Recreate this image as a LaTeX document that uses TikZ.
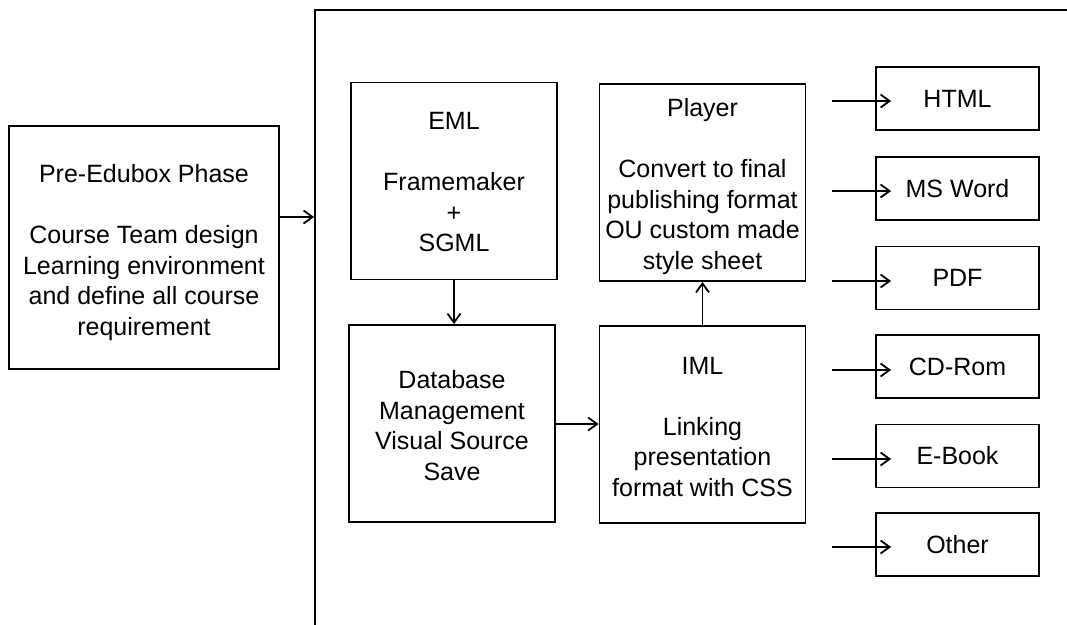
\documentclass[tikz,border=0pt]{standalone}
\usepackage{fontspec}
\setmainfont{Liberation Sans}
\usetikzlibrary{arrows.meta}
\begin{document}
\begin{tikzpicture}[x=1pt,y=-1pt,
  box/.style={draw, line width=1.8pt, align=center, inner sep=0pt,
    font=\fontsize{25}{30.5}\selectfont},
  outbox/.style={box, minimum width=163pt, minimum height=63pt},
  bigbox/.style={box, minimum width=206pt, minimum height=197pt},
  txt/.style={align=center, inner sep=0pt, font=\fontsize{25}{30.5}\selectfont},
  arr/.style={line width=1.8pt, -{Straight Barb[length=9pt,width=13pt,line width=1.8pt]}}]
\useasboundingbox (0,0) rectangle (1067,624);
\clip (0,0) rectangle (1067,624);
% container (extends past the page on right and bottom)
\node[draw, line width=1.8pt, minimum width=770pt, minimum height=640pt, inner sep=0pt] (frame) at (700,330) {};
% left box
\node[box, minimum width=270pt, minimum height=243pt] (pre) at (144,247.5) {};
\node[txt] (preT) at ([yshift=-5pt]pre.center)
  {Pre-Edubox Phase\\[30.5pt]Course Team design\\Learning environment\\and define all course\\requirement};
% inner boxes
\node[bigbox] (eml) at (454,181) {};
\node[txt] (emlT) at ([yshift=-1.5pt]eml.center) {EML\\[30.5pt]Framemaker\\+\\SGML};
\node[bigbox] (player) at (702.5,182.5) {};
\node[txt] (playerT) at ([yshift=-4pt]player.center) {Player\\[30.5pt]Convert to final\\publishing format\\OU custom made\\style sheet};
\node[bigbox] (db) at (452,423.5) {};
\node[txt] (dbT) at ([yshift=-2pt]db.center) {Database\\Management\\Visual Source\\Save};
\node[bigbox] (iml) at (702.5,424.5) {};
\node[txt] (imlT) at ([yshift=-2.5pt]iml.center) {IML\\[30.5pt]Linking\\presentation\\format with CSS};
% output boxes
\node[outbox] (html) at (957.5,98.5) {HTML};
\node[outbox] (word) at (957.5,188.5) {MS Word};
\node[outbox] (pdf) at (957.5,278) {PDF};
\node[outbox] (cd) at (957.5,366.5) {CD-Rom};
\node[outbox] (ebook) at (957.5,456) {E-Book};
\node[outbox] (other) at (957.5,544.5) {Other};
% arrow starts
\coordinate (s1) at (832,101);
\coordinate (s2) at (832,191);
\coordinate (s3) at (832,281);
\coordinate (s4) at (832,370);
\coordinate (s5) at (832,459);
\coordinate (s6) at (832,547);
% connectors
\draw[arr] (pre.east |- 0,217) -- (frame.west |- 0,217);
\draw[arr] (eml.south) -- (eml.south |- db.north);
\draw[arr] (db.east |- 0,424) -- (iml.west |- 0,424);
\draw[arr] (iml.north) -- (player.south);
\draw[arr, shorten >=-16pt] (s1) -- (s1 -| html.west);
\draw[arr, shorten >=-16pt] (s2) -- (s2 -| word.west);
\draw[arr, shorten >=-16pt] (s3) -- (s3 -| pdf.west);
\draw[arr, shorten >=-16pt] (s4) -- (s4 -| cd.west);
\draw[arr, shorten >=-16pt] (s5) -- (s5 -| ebook.west);
\draw[arr, shorten >=-16pt] (s6) -- (s6 -| other.west);
\end{tikzpicture}
\end{document}
